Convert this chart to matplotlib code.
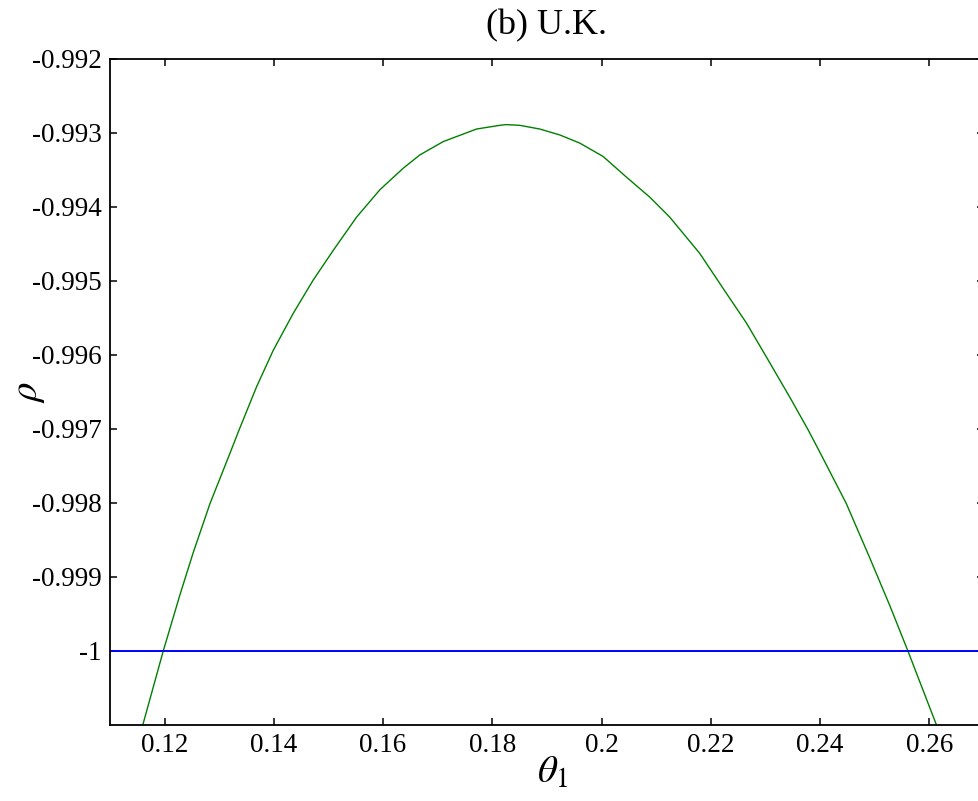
import matplotlib
matplotlib.use("Agg")
import matplotlib.pyplot as plt

# theta_1 grid and correlation rho (U.K.)
theta1 = [0.11600, 0.11975, 0.12281, 0.12524, 0.12830, 0.13196, 0.13360,
          0.13684, 0.13988, 0.14354, 0.14720, 0.15086, 0.15514, 0.15941,
          0.16367, 0.16672, 0.17099, 0.17710, 0.18136, 0.18250, 0.18500,
          0.18868, 0.19234, 0.19600, 0.20026, 0.20455, 0.20881, 0.21247,
          0.21796, 0.22285, 0.22651, 0.23017, 0.23443, 0.23778, 0.23991,
          0.24480, 0.24907, 0.25283, 0.25607, 0.26130]
rho = [-1.00100, -1.00000, -0.99924, -0.99867, -0.99801, -0.99733, -0.99702,
       -0.99643, -0.99594, -0.99544, -0.99499, -0.99459, -0.99414, -0.99377,
       -0.99348, -0.99330, -0.99312, -0.99295, -0.99290, -0.99289, -0.99290,
       -0.99295, -0.99303, -0.99314, -0.99332, -0.99360, -0.99387, -0.99414,
       -0.99463, -0.99517, -0.99557, -0.99603, -0.99657, -0.99701, -0.99731,
       -0.99801, -0.99874, -0.99940, -1.00000, -1.00100]
rho_ref = -1.0

xticks = [0.12, 0.14, 0.16, 0.18, 0.20, 0.22, 0.24, 0.26]
xticklabels = ["0.12", "0.14", "0.16", "0.18", "0.2", "0.22", "0.24", "0.26"]
yticks = [-0.992, -0.993, -0.994, -0.995, -0.996, -0.997, -0.998, -0.999, -1.0]
yticklabels = ["-0.992", "-0.993", "-0.994", "-0.995", "-0.996", "-0.997",
               "-0.998", "-0.999", "-1"]

plt.rcParams["font.family"] = ["Liberation Serif", "DejaVu Serif"]
plt.rcParams["mathtext.fontset"] = "stix"

fig = plt.figure(figsize=(9.79, 8.01), dpi=100)
ax = fig.add_axes([110 / 979, 76 / 801, 874 / 979, 666.3 / 801])

ax.plot(theta1, rho, color="#008000", lw=1.0, solid_joinstyle="round")
ax.axhline(rho_ref, color="#0000ff", lw=1.4)

ax.set_xlim(0.11, 0.27)
ax.set_ylim(-1.001, -0.992)
ax.set_xticks(xticks)
ax.set_xticklabels(xticklabels)
ax.set_yticks(yticks)
ax.set_yticklabels(yticklabels)

ax.tick_params(direction="in", length=5, width=1.1, top=True, right=True,
               labelsize=19.5, pad=6)
for s in ax.spines.values():
    s.set_linewidth(1.3)

ax.set_title("(b) U.K.", fontsize=26, pad=17.5)
ax.set_xlabel(r"$\theta_1$", fontsize=28, labelpad=0)
ax.xaxis.set_label_coords(0.507, -0.045)
ax.xaxis.label.set_va("top")
ax.set_ylabel(r"$\rho$", fontsize=28)
ax.yaxis.set_label_coords(-0.072, 0.5)

fig.savefig("out.png", dpi=100)
